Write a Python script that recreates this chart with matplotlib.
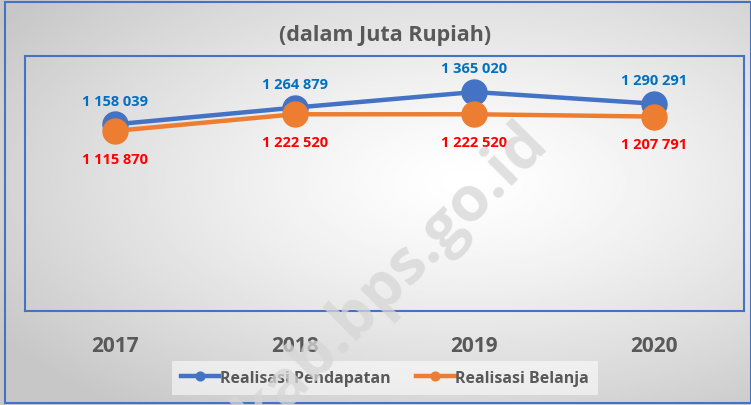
import numpy as np
import matplotlib
matplotlib.use("Agg")
import matplotlib.pyplot as plt
from matplotlib.patches import Rectangle

plt.rcParams['font.family'] = ['Open Sans', 'DejaVu Sans']

years = ['2017', '2018', '2019', '2020']
pendapatan = [1158039, 1264879, 1365020, 1290291]
belanja = [1115870, 1222520, 1222520, 1207791]
label_pend = ['1 158 039', '1 264 879', '1 365 020', '1 290 291']
label_bel = ['1 115 870', '1 222 520', '1 222 520', '1 207 791']

W, H = 751, 406
fig = plt.figure(figsize=(W / 100, H / 100), dpi=100)

# radial grey background, bright in the middle
bg = fig.add_axes([0, 0, 1, 1], zorder=0)
xx, yy = np.meshgrid(np.linspace(0, 1, 300), np.linspace(0, 1, 200))
d = np.sqrt(((xx - 0.62) / 0.75) ** 2 + ((yy - 0.45) / 0.7) ** 2)
shade = 1 - 0.22 * np.clip(d, 0, 1) ** 1.3
bg.imshow(shade, cmap='gray', vmin=0, vmax=1, extent=[0, 1, 0, 1],
          aspect='auto', origin='upper')
bg.set_axis_off()
fig.patches.append(Rectangle((5 / W, 2 / H), 1 - 5 / W, 1 - 5 / H,
                             transform=fig.transFigure, fill=False,
                             edgecolor='#4472C4', lw=1.5, zorder=1))

ax = fig.add_axes([25 / W, 1 - 312 / H, 719 / W, 255 / H], zorder=2)
ax.set_facecolor('none')
x = np.arange(len(years))

ax.plot(x, pendapatan, color='#4472C4', lw=3.2, marker='o', ms=18,
        label='Realisasi Pendapatan', zorder=3)
ax.plot(x, belanja, color='#ED7D31', lw=3.2, marker='o', ms=18,
        label='Realisasi Belanja', zorder=4)

for i in x:
    ax.annotate(label_pend[i], (i, pendapatan[i]), xytext=(0, 17),
                textcoords='offset points', ha='center', va='center',
                color='#0070C0', fontsize=10.5, fontweight='bold', zorder=5)
    ax.annotate(label_bel[i], (i, belanja[i]), xytext=(0, -20),
                textcoords='offset points', ha='center', va='center',
                color='#FF0000', fontsize=10.5, fontweight='bold', zorder=5)

ax.set_xlim(-0.5, 3.5)
ax.set_ylim(-36580, 1595420)
ax.set_yticks([])
ax.set_xticks(x)
ax.set_xticklabels(years, fontsize=15, fontweight='bold', color='#595959')
ax.tick_params(axis='x', length=0, pad=17)
for s in ax.spines.values():
    s.set_edgecolor('#4472C4')
    s.set_linewidth(1.5)

fig.text(385 / W, 1 - 35 / H, '(dalam Juta Rupiah)', ha='center', va='center',
         fontsize=15.5, fontweight='bold', color='#595959')

leg = ax.legend(loc='center', bbox_to_anchor=(385 / W, 1 - 379 / H),
                bbox_transform=fig.transFigure, ncol=2, frameon=True,
                fontsize=11.5, markerscale=0.35, handlelength=2.4,
                handletextpad=0.05, columnspacing=1.6, borderpad=0.55,
                borderaxespad=0)
leg.get_frame().set_facecolor('white')
leg.get_frame().set_alpha(0.55)
leg.get_frame().set_edgecolor('none')
leg.get_frame().set_boxstyle('square', pad=0)
for t in leg.get_texts():
    t.set_fontweight('bold')
    t.set_color('#595959')

# watermark
fig.text(392 / W, 1 - 278 / H, 'kab.bps.go.id', rotation=45, ha='center',
         va='center', fontsize=45, fontweight='bold', color='#d6d6d6',
         alpha=0.75, zorder=10)

fig.savefig('out.png', dpi=100)
